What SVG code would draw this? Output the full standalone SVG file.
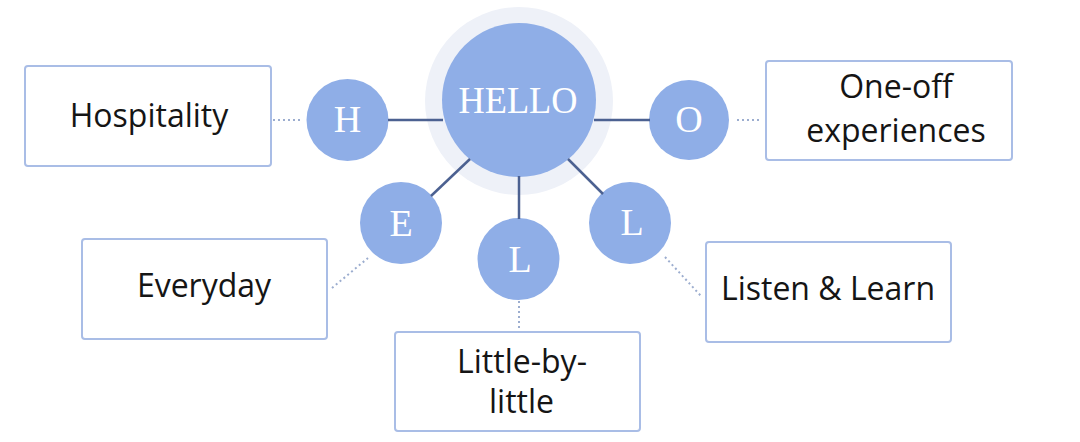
<svg xmlns="http://www.w3.org/2000/svg" width="1080" height="442" viewBox="0 0 1080 442">
<style>
.box{fill:#fff;stroke:#a9bde6;stroke-width:2}
.lbl{font-family:"Open Sans",Lato,"Liberation Sans",sans-serif;font-size:32px;fill:#151515;text-anchor:middle}
.dot{fill:#8faee7}
.let{font-family:"Liberation Serif","DejaVu Serif",serif;font-size:38px;fill:#fff;text-anchor:middle}
.solid{stroke:#4c6191;stroke-width:2.5;fill:none}
.dotted{stroke:#9cadcf;stroke-width:2;stroke-dasharray:2 3;fill:none}
</style>
<rect width="1080" height="442" fill="#fff"/>
<g id="hello">
<circle cx="519" cy="101" r="94" fill="#eef1f8"/>
<circle cx="519" cy="100" r="77" class="dot"/>
<text class="let" x="518" y="113" font-size="40" textLength="119" lengthAdjust="spacingAndGlyphs">HELLO</text>
</g>
<g id="node-h">
<circle cx="347.5" cy="120" r="41" class="dot"/>
<text class="let" x="347.5" y="132">H</text>
</g>
<g id="node-o">
<circle cx="689" cy="120" r="40" class="dot"/>
<text class="let" x="689" y="132">O</text>
</g>
<g id="node-e">
<circle cx="401" cy="223" r="41" class="dot"/>
<text class="let" x="401" y="236">E</text>
</g>
<g id="node-l1">
<circle cx="518.5" cy="259" r="41" class="dot"/>
<text class="let" x="520" y="272">L</text>
</g>
<g id="node-l2">
<circle cx="630" cy="223" r="41" class="dot"/>
<text class="let" x="632" y="235">L</text>
</g>
<g id="box-hospitality">
<rect class="box" x="25" y="66" width="246" height="100" rx="3"/>
<text class="lbl" x="149" y="127">Hospitality</text>
</g>
<g id="box-everyday">
<rect class="box" x="82" y="239" width="245" height="100" rx="3"/>
<text class="lbl" x="204" y="297">Everyday</text>
</g>
<g id="box-little">
<rect class="box" x="395" y="332" width="245" height="99" rx="3"/>
<text class="lbl" x="522" y="373">Little-by-</text>
<text class="lbl" x="521.5" y="413">little</text>
</g>
<g id="box-oneoff">
<rect class="box" x="766" y="61" width="246" height="99" rx="3"/>
<text class="lbl" x="896" y="98">One-off</text>
<text class="lbl" x="896" y="142">experiences</text>
</g>
<g id="box-listen">
<rect class="box" x="706" y="242" width="245" height="100" rx="3"/>
<text class="lbl" x="828" y="300">Listen &amp; Learn</text>
</g>
<g id="connectors">
<line class="solid" x1="388" y1="120" x2="443" y2="120"/>
<line class="solid" x1="594" y1="120" x2="650" y2="120"/>
<line class="solid" x1="470" y1="159" x2="431" y2="196"/>
<line class="solid" x1="519" y1="176" x2="519" y2="219"/>
<line class="solid" x1="568" y1="159" x2="603" y2="194"/>
<line class="dotted" x1="273" y1="120" x2="300" y2="120"/>
<line class="dotted" x1="737" y1="120" x2="762" y2="120"/>
<line class="dotted" x1="332" y1="288" x2="368" y2="258"/>
<line class="dotted" x1="519" y1="301" x2="519" y2="330"/>
<line class="dotted" x1="665" y1="257" x2="701" y2="296"/>
</g>
</svg>
